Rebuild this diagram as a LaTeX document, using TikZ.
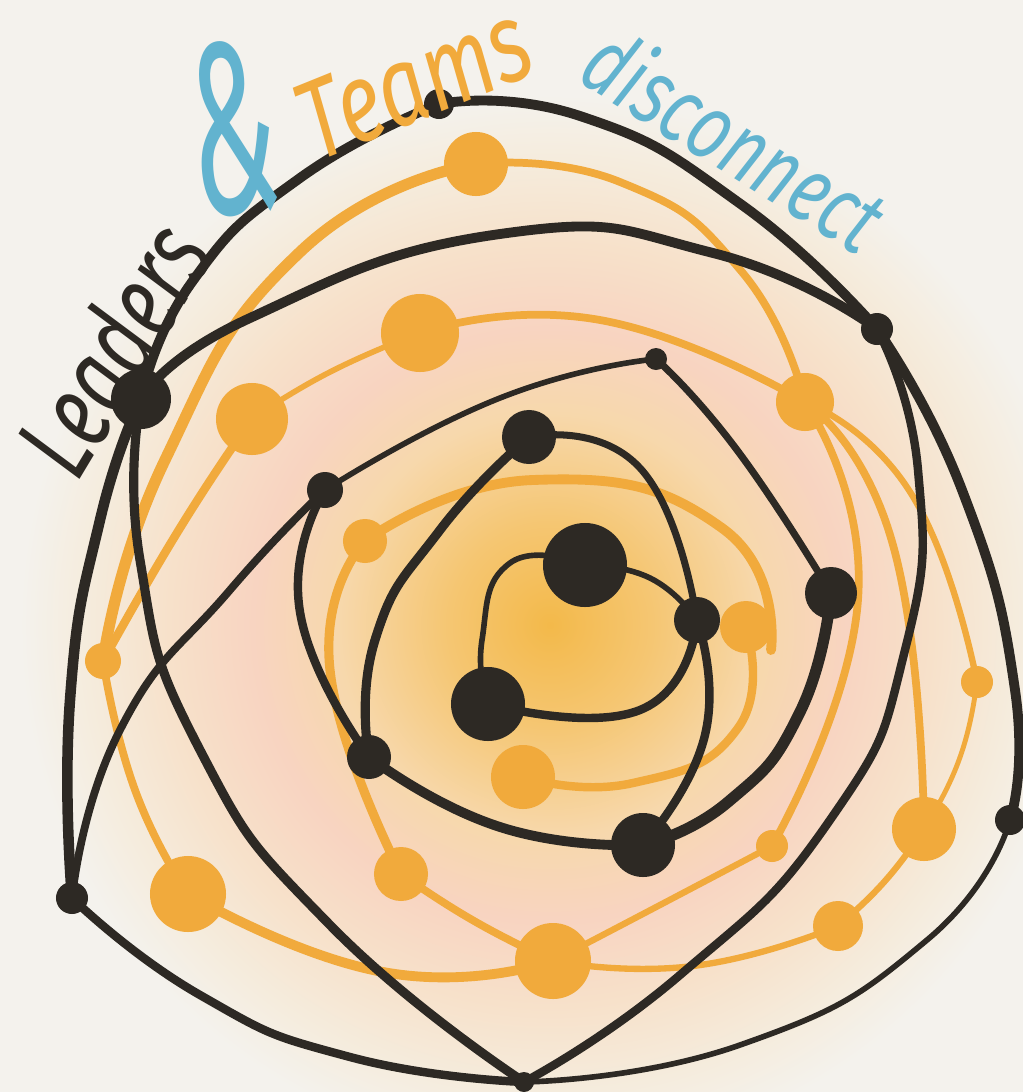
\documentclass[tikz,border=0pt]{standalone}
\usepackage{fontspec}
\newfontfamily\hand{Fira Sans}
\definecolor{bgc}{HTML}{F4F2ED}
\definecolor{g0}{HTML}{F3B94A}
\definecolor{g1}{HTML}{F5C672}
\definecolor{g2}{HTML}{F7D8AC}
\definecolor{g3}{HTML}{F8D4C1}
\definecolor{g4}{HTML}{F7E1CA}
\definecolor{g5}{HTML}{F5ECDD}
\definecolor{blk}{HTML}{2D2924}
\definecolor{org}{HTML}{F1AA3C}
\definecolor{blu}{HTML}{62B3CF}
\pgfdeclareradialshading{glow}{\pgfpoint{0bp}{0bp}}{color(0bp)=(g0); color(2.4bp)=(g1); color(5bp)=(g2); color(7bp)=(g3); color(9bp)=(g4); color(11bp)=(g5); color(12.5bp)=(bgc); color(50bp)=(bgc)}
\pgfdeclarelayer{back}
\pgfdeclarelayer{edges}
\pgfsetlayers{back,edges,main}
\begin{document}
\begin{tikzpicture}[x=0.025cm,y=-0.025cm,
  bn/.style={circle, fill=blk, inner sep=0pt, minimum size=#1*0.05cm},
  on/.style={circle, fill=org, inner sep=0pt, minimum size=#1*0.05cm},
  bk/.style={draw=blk, line width=#1, line cap=round, line join=round},
  ok/.style={draw=org, line width=#1, line cap=round, line join=round},
  sm/.style={smooth, tension=0.9},
  hw/.style={inner sep=0pt}]
\useasboundingbox (0,0) rectangle (1023,1092);
\begin{pgfonlayer}{back}
\fill[bgc] (0,0) rectangle (1023,1092);
\fill[shading=glow] (550,625) circle (1060);
\end{pgfonlayer}

% orange nodes
\node[on=32] (O1) at (476,164) {};
\node[on=39] (O2) at (420,333) {};
\node[on=36] (O3) at (252,419) {};
\node[on=29] (O4) at (805,402) {};
\node[on=22] (O5) at (365,541) {};
\node[on=26] (O6) at (746,627) {};
\node[on=18] (O7) at (103,661) {};
\node[on=16] (O8) at (977,682) {};
\node[on=32] (O9) at (523,777) {};
\node[on=27] (O10) at (401,874) {};
\node[on=38] (O11) at (188,894) {};
\node[on=32] (O12) at (924,829) {};
\node[on=16] (O13) at (772,846) {};
\node[on=25] (O14) at (838,926) {};
\node[on=38] (O15) at (553,961) {};
\coordinate (loopend) at (771,650);

% black nodes
\node[bn=15] (B1) at (439,104) {};
\node[bn=16] (B2) at (877,329) {};
\node[bn=30] (B3) at (141,399) {};
\node[bn=11] (B4) at (656,359) {};
\node[bn=27] (B5) at (529,437) {};
\node[bn=18] (B6) at (325,490) {};
\node[bn=42] (B7) at (585,565) {};
\node[bn=23] (B8) at (697,620) {};
\node[bn=37] (B9) at (488,704) {};
\node[bn=26] (B10) at (831,593) {};
\node[bn=22] (B11) at (369,757) {};
\node[bn=32] (B12) at (643,845) {};
\node[bn=16] (B13) at (72,898) {};
\node[bn=15] (B14) at (1010,820) {};
\node[bn=10] (B15) at (524,1082) {};

\begin{pgfonlayer}{edges}
% orange connectors
\draw[ok=8pt] plot[sm] coordinates {(O1.center) (300,252) (165,460) (O7.center)};
\draw[ok=6pt] plot[sm] coordinates {(O3.center) (180,528) (O7.center)};
\draw[ok=5.5pt] plot[sm] coordinates {(O7.center) (135,790) (O11.center)};
\draw[ok=4pt] plot[sm] coordinates {(O2.center) (330,372) (O3.center)};
\draw[ok=5.5pt] plot[sm] coordinates {(O1.center) (620,182) (742,272) (O4.center)};
\draw[ok=5.5pt] plot[sm] coordinates {(O2.center) (600,320) (O4.center)};
\draw[ok=4.5pt] plot[sm] coordinates {(O4.center) (912,495) (O8.center)};
\draw[ok=5.5pt] plot[sm] coordinates {(O4.center) (893,545) (O12.center)};
\draw[ok=5.5pt] plot[sm] coordinates {(O4.center) (858,600) (O13.center)};
\draw[ok=3.5pt] (O8.center) to[bend left=12] (O12.center);
\draw[ok=4.5pt] (O12.center) to[bend left=8] (O14.center);
\draw[ok=4.5pt] plot[sm] coordinates {(O14.center) (693,966) (O15.center)};
\draw[ok=4.5pt] plot[sm] coordinates {(O13.center) (660,905) (O15.center)};
\draw[ok=7pt] plot[sm] coordinates {(O11.center) (383,972) (O15.center)};
\draw[ok=5.5pt] (O10.center) to[bend right=5] (O15.center);
\draw[ok=6.5pt] plot[sm] coordinates {(O5.center) (330,670) (O10.center)};
\draw[ok=7pt] plot[sm] coordinates {(O5.center) (533,480) (722,528) (loopend)};
\draw[ok=6pt] plot[sm] coordinates {(O6.center) (738,728) (633,783) (O9.center)};

% black connectors
\draw[bk=7pt] plot[sm] coordinates {(B1.center) (580,116) (742,205) (B2.center)};
\draw[bk=7pt] plot[sm] coordinates {(B1.center) (300,178) (192,282) (B3.center)};
\draw[bk=7.5pt] plot[sm] coordinates {(B3.center) (100,520) (70,700) (B13.center)};
\draw[bk=6pt] plot[sm] coordinates {(B13.center) (200,995) (350,1057) (B15.center)};
\draw[bk=6.5pt] plot[sm] coordinates {(B3.center) (140,560) (200,750) (330,925) (B15.center)};
\draw[bk=5.5pt] plot[sm] coordinates {(B6.center) (230,590) (120,730) (B13.center)};
\draw[bk=6pt] plot[sm] coordinates {(B6.center) (300,612) (B11.center)};
\draw[bk=4pt] plot[sm] coordinates {(B6.center) (500,398) (B4.center)};
\draw[bk=5pt] plot[sm] coordinates {(B4.center) (737,450) (B10.center)};
\draw[bk=8pt] plot[sm] coordinates {(B10.center) (800,712) (728,802) (B12.center)};
\draw[bk=7pt] plot[sm] coordinates {(B3.center) (250,318) (500,234) (713,253) (B2.center)};
\draw[bk=7pt] plot[sm] coordinates {(B2.center) (962,490) (1015,690) (B14.center)};
\draw[bk=6pt] plot[sm] coordinates {(B2.center) (918,470) (905,650) (830,820) (680,975) (B15.center)};
\draw[bk=4pt] plot[sm] coordinates {(B14.center) (927,940) (740,1045) (B15.center)};
\draw[bk=6.5pt] plot[sm] coordinates {(B5.center) (440,530) (375,640) (B11.center)};
\draw[bk=7pt] plot[sm] coordinates {(B11.center) (500,827) (B12.center)};
\draw[bk=5pt] plot[sm] coordinates {(B5.center) (640,468) (B8.center)};
\draw[bk=6pt] plot[sm] coordinates {(B8.center) (705,735) (B12.center)};
\draw[bk=4pt] plot[sm] coordinates {(B7.center) (650,578) (B8.center)};
\draw[bk=4pt] plot[sm] coordinates {(B7.center) (510,563) (482,640) (B9.center)};
\draw[bk=6pt] plot[sm] coordinates {(B8.center) (640,710) (B9.center)};
\end{pgfonlayer}

% handwritten title
\node[hw, text=blk, rotate=59, xscale=0.7, font=\hand\itshape\fontsize{78}{78}\selectfont] (tL) at (112,348) {Leaders};
\node[hw, text=blu, rotate=8, xscale=0.5, font=\hand\itshape\fontsize{175}{175}\selectfont] (tA) at (232,128) {\&};
\node[hw, text=org, rotate=22, xscale=0.75, font=\hand\itshape\fontsize{80}{80}\selectfont] (tT) at (414,82) {Teams};
\node[hw, text=blu, rotate=-32, xscale=0.74, font=\hand\itshape\fontsize{66}{66}\selectfont] (tD) at (736,138) {disconnect};
\end{tikzpicture}
\end{document}
